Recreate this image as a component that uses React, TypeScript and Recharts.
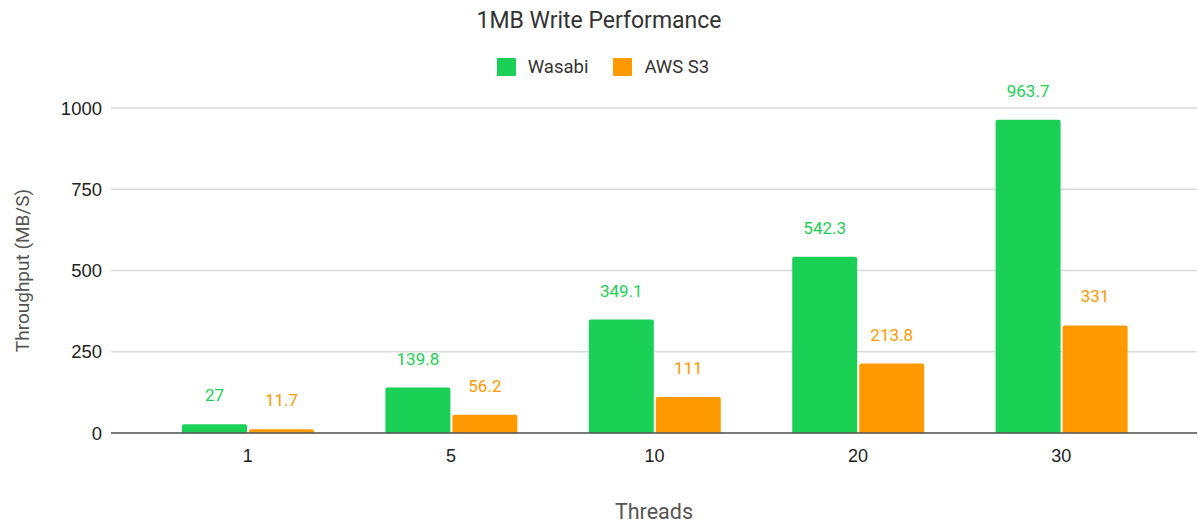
import React from 'react';
import { BarChart, Bar, XAxis, YAxis, CartesianGrid, Legend, LabelList } from 'recharts';

const categories = ['1', '5', '10', '20', '30'];
const wasabi = [27, 139.8, 349.1, 542.3, 963.7];
const awsS3 = [11.7, 56.2, 111, 213.8, 331];
const yTicks = [0, 250, 500, 750, 1000];
const seriesNames = ['Wasabi', 'AWS S3'];

const GREEN = '#1BD155';
const ORANGE = '#FF9900';
const COLORS = [GREEN, ORANGE];
const FONT = 'Roboto, "Noto Sans", sans-serif';
const TICKFONT = '"Liberation Sans", Arial, sans-serif';

const data = categories.map((c, i) => ({ threads: c, [seriesNames[0]]: wasabi[i], [seriesNames[1]]: awsS3[i] }));

const LegendContent = () => (
  <div style={{ display: 'flex', justifyContent: 'center', alignItems: 'center', height: 20, paddingLeft: 8, fontFamily: FONT, fontSize: 18.5, color: '#333' }}>
    {seriesNames.map((n, i) => (
      <div key={n} style={{ display: 'flex', alignItems: 'center', marginRight: i === 0 ? 25 : 0 }}>
        <div style={{ width: 19, height: 18, background: COLORS[i], borderRadius: 1, marginRight: 12 }} />
        <span>{n}</span>
      </div>
    ))}
  </div>
);

export default function App() {
  return (
    <div style={{ position: 'absolute', left: 0, top: 0, width: 1198, height: 523, background: '#fff', fontFamily: FONT }}>
      <div style={{ position: 'absolute', top: 7, left: 0, width: 1198, textAlign: 'center', fontSize: 23, lineHeight: '28px', color: '#333', fontFamily: FONT }}>
        1MB Write Performance
      </div>
      <BarChart
        width={1198}
        height={523}
        data={data}
        margin={{ top: 88, right: 1, left: 0, bottom: 0 }}
        barGap={2}
        barSize={65}
      >
        <CartesianGrid vertical={false} stroke="#d9d9d9" strokeWidth={1.3} />
        <Legend
          verticalAlign="top"
          align="center"
          content={LegendContent}
          wrapperStyle={{ top: 57, left: 0, width: 1198 }}
        />
        <XAxis
          dataKey="threads"
          height={90}
          padding={{ left: 35, right: 34 }}
          tickLine={false}
          axisLine={{ stroke: '#555', strokeWidth: 1.3 }}
          tickMargin={10}
          tick={{ fill: '#222', fontSize: 18, fontFamily: TICKFONT }}
          label={{ value: 'Threads', position: 'insideBottom', offset: 4, fill: '#555', fontSize: 21.5, fontFamily: FONT }}
        />
        <YAxis
          width={111}
          domain={[0, 1000]}
          ticks={yTicks}
          axisLine={false}
          tickLine={false}
          tickSize={0}
          tickMargin={9}
          tick={{ fill: '#222', fontSize: 18.5, fontFamily: TICKFONT }}
          label={{ value: 'Throughput (MB/S)', angle: -90, position: 'insideLeft', offset: 22, fill: '#555', fontSize: 19, fontFamily: FONT, style: { textAnchor: 'middle' } }}
        />
        <Bar dataKey={seriesNames[0]} fill={GREEN} radius={[2, 2, 0, 0]} isAnimationActive={false}>
          <LabelList dataKey={seriesNames[0]} position="top" offset={23} fill={GREEN} fontSize={17} fontFamily={FONT} />
        </Bar>
        <Bar dataKey={seriesNames[1]} fill={ORANGE} radius={[2, 2, 0, 0]} isAnimationActive={false}>
          <LabelList dataKey={seriesNames[1]} position="top" offset={23} fill={ORANGE} fontSize={17} fontFamily={FONT} />
        </Bar>
      </BarChart>
    </div>
  );
}
